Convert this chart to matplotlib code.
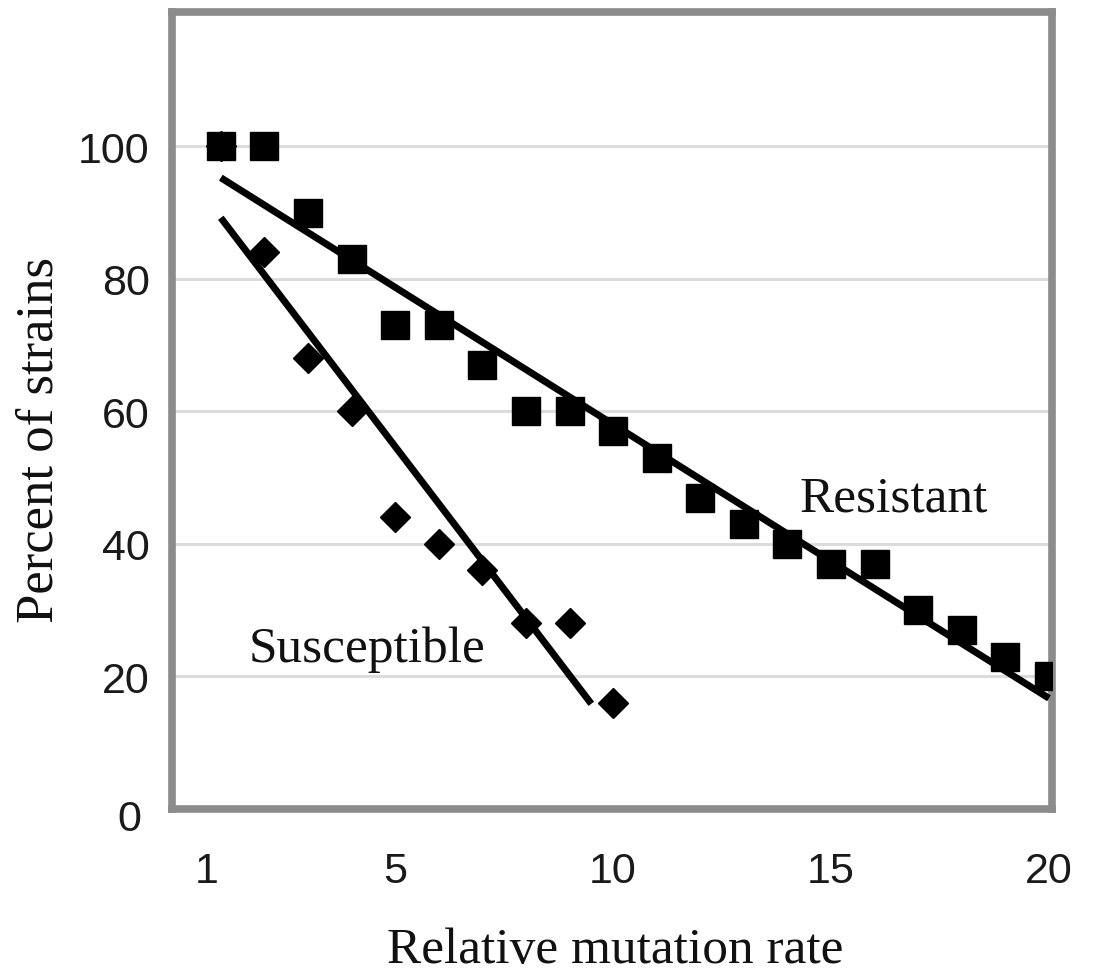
import numpy as np
import matplotlib
matplotlib.use("Agg")
import matplotlib.pyplot as plt
import matplotlib.transforms as mtransforms

# data
rate = np.arange(1, 21)
resistant = [100, 100, 90, 83, 73, 73, 67, 60, 60, 57,
             53, 47, 43, 40, 37, 37, 30, 27, 23, 20]
susc_rate = np.arange(1, 11)
susceptible = [100, 84, 68, 60, 44, 40, 36, 28, 28, 16]

# range over which each trend line is drawn
resistant_fit_range = (1, 20)
susceptible_fit_range = (1, 9.5)

x_ticks = [1, 5, 10, 15, 20]
y_ticks = [0, 20, 40, 60, 80, 100]

serif = ['Liberation Serif', 'DejaVu Serif']
sans = ['Liberation Sans', 'DejaVu Sans']

W, H = 1095, 978
fig = plt.figure(figsize=(W / 100, H / 100), dpi=100)
ax = fig.add_axes([172 / W, 1 - 810 / H, (1052 - 172) / W, (810 - 13) / H])

ax.set_xlim(-0.12, 20.07)
ax.set_ylim(0, 120.3)

ax.yaxis.grid(True, color='#dcdcdc', lw=2.2)
ax.set_axisbelow(True)

for s in ax.spines.values():
    s.set_color('#8c8c8c')
    s.set_linewidth(5.5)

# trend lines (least squares)
for xs, ys, rng in [(rate, resistant, resistant_fit_range),
                    (susc_rate, susceptible, susceptible_fit_range)]:
    k, b = np.polyfit(xs, ys, 1)
    xl = np.array(rng)
    ax.plot(xl, k * xl + b, color='black', lw=5, solid_capstyle='butt', zorder=3)

ax.plot(susc_rate, susceptible, 'D', color='black', ms=15, zorder=4)
ax.plot(rate, resistant, 's', color='black', ms=20, zorder=5)

ax.text(16.44, 45.0, 'Resistant', family=serif, fontsize=37,
        ha='center', va='baseline', color='#111111')
ax.text(4.36, 22.3, 'Susceptible', family=serif, fontsize=37,
        ha='center', va='baseline', color='#111111')

ax.set_xticks(x_ticks)
ax.set_yticks(y_ticks)
ax.tick_params(axis='both', length=0, labelsize=31, colors='#1a1a1a')
ax.tick_params(axis='x', pad=30)
ax.tick_params(axis='y', pad=16)
for lab in ax.get_xticklabels() + ax.get_yticklabels():
    lab.set_family(sans)

# small offsets of the "1" and "0" labels as in the original
xl0 = ax.get_xticklabels()[0]
xl0.set_transform(xl0.get_transform() + mtransforms.ScaledTranslation(-14 / 100, 0, fig.dpi_scale_trans))
yl0 = ax.get_yticklabels()[0]
yl0.set_transform(yl0.get_transform() + mtransforms.ScaledTranslation(-9 / 100, -6 / 100, fig.dpi_scale_trans))

fig.text(40 / W, 1 - 440 / H, 'Percent of strains', family=serif, fontsize=38,
         rotation=90, ha='center', va='center', color='#111111')
fig.text(615 / W, 1 - 963 / H, 'Relative mutation rate', family=serif, fontsize=37,
         ha='center', va='baseline', color='#111111')

fig.savefig('out.png', dpi=100)
